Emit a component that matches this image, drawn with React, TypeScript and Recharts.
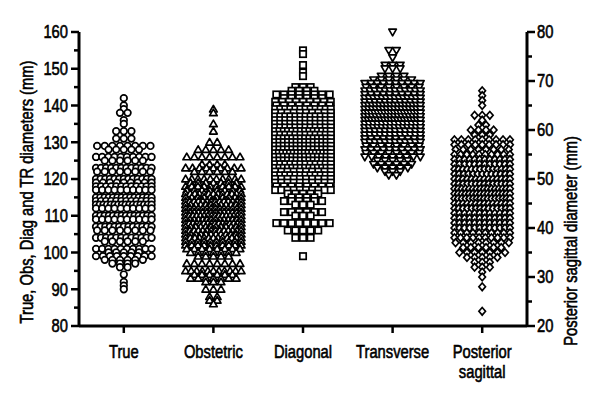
import { ScatterChart, Scatter, XAxis, YAxis } from "recharts"

const FONT = '"Liberation Sans", Arial, sans-serif'

const categories = ["True", "Obstetric", "Diagonal", "Transverse", "Posterior sagittal"]
const leftTicks = [80, 85, 90, 95, 100, 105, 110, 115, 120, 125, 130, 135, 140, 145, 150, 155, 160]
const rightTicks = [20, 25, 30, 35, 40, 45, 50, 55, 60, 65, 70, 75, 80]

// [value, number of cases]
const trueRows = [
  [142, 1], [140, 1], [139, 1], [138, 2], [136, 1], [135, 1], [133, 3], [131, 3], [129, 8], [128, 5],
  [126, 10], [125, 6], [123, 12], [122, 8], [120, 13], [119, 9], [118, 12], [117, 10], [115, 14], [114, 12],
  [113, 16], [112, 10], [110, 14], [109, 10], [107, 13], [106, 8], [104, 12], [103, 6], [101, 10], [100, 5],
  [99, 9], [98, 6], [97, 4], [96, 2], [94, 1], [92, 1], [91, 1], [90, 1],
]
const obstetricRows = [
  [139, 1], [138, 1], [135, 1], [133, 1], [130, 2], [128, 5], [126, 8], [124, 4], [123, 9], [122, 6],
  [120, 10], [119, 7], [118, 10], [117, 8], [116, 13], [115, 10], [114, 14], [113, 12], [112, 14], [111, 14],
  [110, 16], [109, 14], [108, 16], [107, 12], [106, 14], [105, 12], [104, 13], [103, 10], [102, 10], [101, 8],
  [100, 7], [99, 5], [97, 8], [95, 11], [94, 6], [93, 7], [92, 3], [90, 3], [88, 2], [87, 2], [86, 1],
]
const diagonalRows = [
  [155, 1], [154, 1], [151, 1], [149, 1], [148, 1], [145, 3], [144, 4], [143, 8], [142, 6], [141, 9],
  [140, 8], [139, 12], [138, 10], [137, 12], [136, 12], [135, 12], [134, 12], [133, 14], [132, 12], [131, 14],
  [130, 14], [129, 14], [128, 14], [127, 16], [126, 14], [125, 14], [124, 12], [123, 14], [122, 10], [121, 12],
  [120, 10], [119, 10], [118, 8], [117, 10], [116, 5], [115, 4], [114, 6], [113, 3], [111, 6], [110, 3],
  [108, 8], [106, 5], [104, 3], [99, 1],
]
const transverseRows = [
  [160, 1], [155, 2], [153, 1], [151, 3], [150, 3], [148, 4], [147, 6], [146, 10], [145, 8], [144, 12],
  [143, 10], [142, 14], [141, 12], [140, 16], [139, 16], [138, 18], [137, 16], [136, 18], [135, 14], [134, 14],
  [133, 12], [132, 12], [131, 10], [130, 12], [129, 8], [128, 10], [127, 8], [126, 9], [125, 5], [124, 6],
  [123, 5], [122, 3], [121, 2],
]
const posteriorRows = [
  [68, 1], [67, 1], [66, 1], [65, 1], [63, 3], [62, 1], [61, 2], [60, 4], [59, 3], [58, 9],
  [57, 9], [56, 8], [55, 10], [54, 12], [53, 12], [52, 14], [51, 13], [50, 14], [49, 14], [48, 16],
  [47, 16], [46, 16], [45, 14], [44, 14], [43, 12], [42, 12], [41, 12], [40, 12], [39, 10], [38, 10],
  [37, 8], [36, 6], [35, 7], [34, 5], [33, 3], [32, 3], [31, 1], [30, 1], [28, 1], [23, 1],
]

// spread equal values sideways around the category centre
function spread(rows: number[][], index: number) {
  const out: { x: number; y: number }[] = []
  rows.forEach(([value, count]) => {
    const step = count > 1 ? Math.min(0.085, 0.62 / (count - 1)) : 0
    for (let i = 0; i < count; i++) out.push({ x: index + (i - (count - 1) / 2) * step, y: value })
  })
  return out
}

const mark = { fill: "#fff", stroke: "#000", strokeWidth: 1.7 }

const CircleMark = (p: any) => <circle cx={p.cx} cy={p.cy} r={3.3} {...mark} />
const TriMark = (p: any) => (
  <path d={`M${p.cx},${p.cy - 3.8}L${p.cx + 3.8},${p.cy + 2.8}L${p.cx - 3.8},${p.cy + 2.8}Z`} {...mark} strokeLinejoin="round" />
)
const SquareMark = (p: any) => <rect x={p.cx - 3.2} y={p.cy - 3.2} width={6.4} height={6.4} {...mark} />
const TriDownMark = (p: any) => (
  <path d={`M${p.cx},${p.cy + 3.8}L${p.cx + 3.8},${p.cy - 2.8}L${p.cx - 3.8},${p.cy - 2.8}Z`} {...mark} strokeLinejoin="round" />
)
const DiamondMark = (p: any) => (
  <path d={`M${p.cx},${p.cy - 3.8}L${p.cx + 3.3},${p.cy}L${p.cx},${p.cy + 3.8}L${p.cx - 3.3},${p.cy}Z`} {...mark} />
)

// condensed look: Liberation Sans squeezed horizontally, with a thin stroke for weight
const Narrow = ({ x, y, rotate = 0, anchor = "middle", dy = "0", children }: any) => (
  <text
    transform={`translate(${x} ${y}) rotate(${rotate}) scale(0.82 1)`}
    textAnchor={anchor}
    dy={dy}
    fontSize={18}
    fill="#000"
    stroke="#000"
    strokeWidth={0.6}
    fontFamily={FONT}
  >
    {children}
  </text>
)

const LeftTick = ({ x, y, payload }: any) => {
  const major = payload.value % 10 === 0
  return (
    <g>
      <line x1={x} x2={x - (major ? 8 : 5)} y1={y} y2={y} stroke="#000" strokeWidth={2.5} />
      {major && (
        <Narrow x={x - 11} y={y} anchor="end" dy="0.36em">
          {payload.value}
        </Narrow>
      )}
    </g>
  )
}

const RightTick = ({ x, y, payload }: any) => {
  const major = payload.value % 10 === 0
  return (
    <g>
      <line x1={x} x2={x + (major ? 8 : 5)} y1={y} y2={y} stroke="#000" strokeWidth={2.5} />
      {major && (
        <Narrow x={x + 10} y={y} anchor="start" dy="0.36em">
          {payload.value}
        </Narrow>
      )}
    </g>
  )
}

const CatTick = ({ x, y, payload }: any) => {
  const words = categories[payload.value] === "Posterior sagittal" ? ["Posterior", "sagittal"] : [categories[payload.value]]
  return (
    <g>
      <line x1={x} x2={x} y1={y} y2={y + 7} stroke="#000" strokeWidth={2.5} />
      {words.map((w, i) => (
        <Narrow key={w} x={x} y={y + 32 + i * 20}>
          {w}
        </Narrow>
      ))}
    </g>
  )
}

const LeftTitle = () => (
  <Narrow x={27} y={192} rotate={-90} dy="0.35em">
    True, Obs, Diag and TR diameters (mm)
  </Narrow>
)
const RightTitle = () => (
  <Narrow x={571} y={241} rotate={-90} dy="0.35em">
    Posterior sagittal diameter (mm)
  </Narrow>
)

export default function App() {
  return (
    <div style={{ position: "absolute", left: 0, top: 0, background: "#fff" }}>
      <ScatterChart width={600} height={400} margin={{ top: 32, right: 0, bottom: 0, left: 0 }} style={{ fontFamily: FONT }}>
        <XAxis
          type="number"
          dataKey="x"
          domain={[-0.5, 4.5]}
          ticks={[0, 1, 2, 3, 4]}
          interval={0}
          height={74}
          axisLine={{ stroke: "#000", strokeWidth: 3 }}
          tickLine={false}
          tickSize={0}
          tickMargin={0}
          tick={<CatTick />}
        />
        <YAxis
          yAxisId="left"
          type="number"
          dataKey="y"
          domain={[80, 160]}
          ticks={leftTicks}
          interval={0}
          width={79}
          axisLine={{ stroke: "#000", strokeWidth: 3 }}
          tickLine={false}
          tickSize={0}
          tickMargin={0}
          tick={<LeftTick />}
          label={<LeftTitle />}
        />
        <YAxis
          yAxisId="right"
          orientation="right"
          type="number"
          dataKey="y"
          domain={[20, 80]}
          ticks={rightTicks}
          interval={0}
          width={73}
          axisLine={{ stroke: "#000", strokeWidth: 3 }}
          tickLine={false}
          tickSize={0}
          tickMargin={0}
          tick={<RightTick />}
          label={<RightTitle />}
        />
        <Scatter yAxisId="left" data={spread(trueRows, 0)} shape={CircleMark} isAnimationActive={false} />
        <Scatter yAxisId="left" data={spread(obstetricRows, 1)} shape={TriMark} isAnimationActive={false} />
        <Scatter yAxisId="left" data={spread(diagonalRows, 2)} shape={SquareMark} isAnimationActive={false} />
        <Scatter yAxisId="left" data={spread(transverseRows, 3)} shape={TriDownMark} isAnimationActive={false} />
        <Scatter yAxisId="right" data={spread(posteriorRows, 4)} shape={DiamondMark} isAnimationActive={false} />
      </ScatterChart>
    </div>
  )
}
